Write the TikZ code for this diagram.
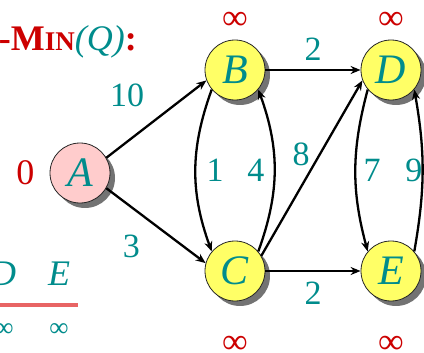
\documentclass[tikz,border=0pt]{standalone}
\usepackage{fontspec}
\setmainfont{Liberation Serif}
\usepackage{xcolor}
\usetikzlibrary{positioning,shapes,arrows.meta,shadows}
\definecolor{nodeteal}{RGB}{0,140,140}
\definecolor{keyred}{RGB}{204,0,0}
\definecolor{nodeyellow}{RGB}{255,255,102}
\definecolor{nodepink}{RGB}{255,204,204}
\definecolor{rulered}{RGB}{232,100,100}
\tikzset{
    vertex/.style={circle, draw=black!85, line width=0.8pt, fill=nodeyellow, minimum size=60pt, inner sep=0pt,
        text=nodeteal, font=\fontsize{42}{42}\selectfont\itshape,
        drop shadow={shadow xshift=5pt, shadow yshift=-5pt, fill=black!55, opacity=1}},
    edge weight/.style={font=\fontsize{34}{34}\selectfont, inner sep=1pt, text=nodeteal},
    key label/.style={font=\fontsize{36}{36}\selectfont, inner sep=1pt, text=keyred},
    arc/.style={-{Stealth[length=10pt,width=8pt]}, line width=2.3pt}
}

\begin{document}
\begin{tikzpicture}[x=1pt, y=1pt]
    \useasboundingbox (0,0) rectangle (424,-353);

    % Vertices
    \node[vertex, fill=nodepink] (A) at (80,-173) {A};
    \node[vertex] (B) at (235,-70) {B};
    \node[vertex] (C) at (235,-271) {C};
    \node[vertex] (D) at (391,-70) {D};
    \node[vertex] (E) at (391,-271) {E};

    % Keys
    \node[key label, left=14pt of A] (kA) {0};
    \node[key label, above=9pt of B] (kB) {∞};
    \node[key label, above=9pt of D] (kD) {∞};
    \node[key label, below=34pt of C] (kC) {∞};
    \node[key label, below=34pt of E] (kE) {∞};

    % Edges with weights
    \draw[arc] (A.30) -- (B.200) node[midway, above left=10pt and 10pt, edge weight] {10};
    \draw[arc] (A.-30) -- (C.165) node[midway, below left=7pt and 14pt, edge weight] {3};
    \draw[arc] (B) -- (D) node[midway, above=7pt, edge weight] {2};
    \draw[arc] (C) -- (E) node[midway, below=9pt, edge weight] {2};
    \draw[arc] (C.30) -- (D.200) node[midway, above left=0pt and 0pt, edge weight] {8};
    \draw[arc] (B.220) to[out=250, in=110] node[midway, right=9pt, edge weight] {1} (C.140);
    \draw[arc] (C.40) to[out=70, in=290] node[midway, left=8pt, edge weight] {4} (B.320);
    \draw[arc] (D.220) to[out=255, in=105] node[midway, right=6pt, edge weight] {7} (E.140);
    \draw[arc] (E.40) to[out=80, in=280] node[midway, left=-2pt, edge weight] {9} (D.320);

    % Title and queue
    \node[anchor=base east, inner sep=0pt, text=keyred, font=\fontsize{36}{36}\selectfont\bfseries] (title) at (137,-51)
        {-M{\fontsize{27}{27}\selectfont IN}{\mdseries\itshape\color{nodeteal}(Q)}:};
    \node[inner sep=0pt, text=nodeteal, font=\fontsize{36}{36}\selectfont\itshape] (qD) at (3,-274) {D};
    \node[inner sep=0pt, text=nodeteal, font=\fontsize{36}{36}\selectfont\itshape] (qE) at (59,-274) {E};
    \draw[rulered, line width=3pt] (0,-305) -- (78,-305);
    \node[inner sep=0pt, text=nodeteal, font=\fontsize{27}{27}\selectfont] (iD) at (4,-330) {∞};
    \node[inner sep=0pt, text=nodeteal, font=\fontsize{27}{27}\selectfont] (iE) at (59,-330) {∞};
\end{tikzpicture}
\end{document}
